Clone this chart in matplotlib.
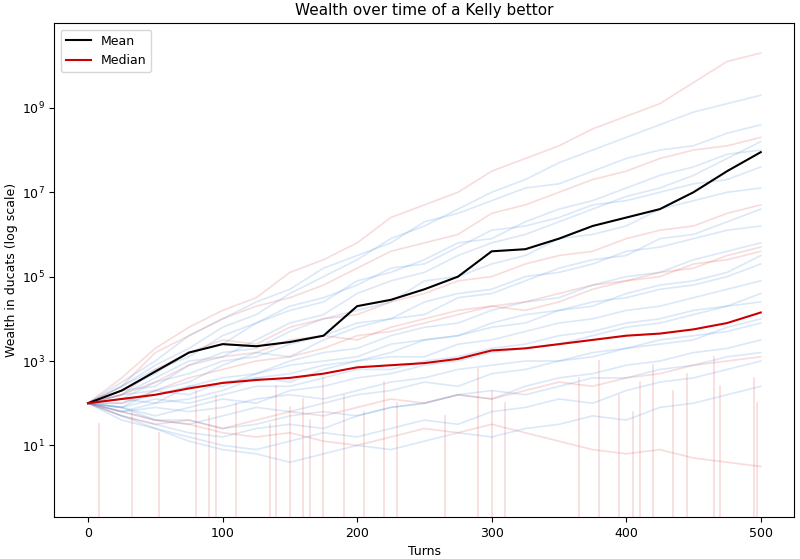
import numpy as np
import matplotlib.pyplot as plt

turns = list(range(0, 501, 25))

# log10 of wealth
mean_log = [2.0, 2.3, 2.75, 3.2, 3.4, 3.35, 3.45, 3.6, 4.3, 4.45, 4.7, 5.0,
            5.6, 5.65, 5.9, 6.2, 6.4, 6.6, 7.0, 7.5, 7.95]
median_log = [2.0, 2.1, 2.2, 2.35, 2.48, 2.55, 2.6, 2.7, 2.85, 2.9, 2.95, 3.05,
              3.25, 3.3, 3.4, 3.5, 3.6, 3.65, 3.75, 3.9, 4.15]

# a sample of individual bettors (log10 wealth), blue paths
blue_paths = [
    [2.0, 2.4, 2.9, 3.3, 3.8, 4.1, 4.6, 5.0, 5.4, 5.9, 6.2, 6.6, 7.0, 7.3, 7.7, 8.0, 8.3, 8.6, 8.9, 9.1, 9.3],
    [2.0, 2.2, 2.6, 3.0, 3.1, 3.5, 3.9, 4.1, 4.6, 4.9, 5.1, 5.5, 5.8, 6.0, 6.3, 6.6, 6.9, 7.1, 7.4, 7.8, 8.2],
    [2.0, 2.3, 2.4, 2.9, 3.2, 3.3, 3.7, 4.0, 4.2, 4.4, 4.9, 5.0, 5.3, 5.5, 5.9, 6.0, 6.2, 6.6, 6.8, 7.0, 7.1],
    [2.0, 1.9, 2.3, 2.5, 2.9, 3.2, 3.1, 3.5, 3.8, 4.0, 4.1, 4.5, 4.6, 4.9, 5.2, 5.4, 5.5, 5.9, 6.0, 6.3, 6.6],
    [2.0, 2.1, 2.0, 2.4, 2.6, 2.7, 3.0, 3.2, 3.3, 3.6, 3.8, 3.9, 4.2, 4.4, 4.5, 4.8, 5.0, 5.1, 5.4, 5.6, 5.8],
    [2.0, 1.8, 2.0, 2.1, 2.3, 2.6, 2.7, 2.9, 3.0, 3.2, 3.5, 3.6, 3.8, 3.9, 4.2, 4.4, 4.5, 4.7, 4.8, 5.0, 5.3],
    [2.0, 2.2, 2.3, 2.2, 2.5, 2.6, 2.5, 2.8, 3.0, 3.1, 3.1, 3.4, 3.5, 3.7, 3.9, 4.0, 4.2, 4.3, 4.5, 4.7, 4.9],
    [2.0, 1.9, 1.7, 1.9, 2.1, 2.0, 2.3, 2.4, 2.6, 2.7, 2.9, 3.0, 3.2, 3.3, 3.4, 3.6, 3.8, 3.9, 4.1, 4.3, 4.4],
    [2.0, 1.8, 1.6, 1.5, 1.7, 1.9, 1.8, 2.0, 2.2, 2.3, 2.5, 2.4, 2.7, 2.8, 3.0, 3.1, 3.3, 3.4, 3.5, 3.8, 4.0],
    [2.0, 1.7, 1.5, 1.3, 1.2, 1.4, 1.5, 1.4, 1.7, 1.9, 2.0, 2.2, 2.1, 2.4, 2.6, 2.7, 2.9, 3.0, 3.2, 3.3, 3.5],
    [2.0, 1.6, 1.4, 1.2, 1.0, 0.9, 1.1, 1.3, 1.2, 1.4, 1.6, 1.5, 1.8, 1.9, 2.1, 2.0, 2.3, 2.5, 2.6, 2.8, 3.0],
    [2.0, 2.5, 3.0, 3.6, 4.0, 4.4, 4.7, 5.2, 5.5, 5.8, 6.3, 6.5, 6.8, 7.1, 7.2, 7.5, 7.8, 8.0, 8.1, 8.4, 8.6],
    [2.0, 2.3, 2.7, 3.2, 3.4, 3.9, 4.3, 4.5, 4.8, 5.2, 5.3, 5.7, 6.1, 6.2, 6.4, 6.7, 6.8, 7.0, 7.2, 7.3, 7.6],
    [2.0, 2.1, 2.5, 2.7, 3.0, 3.1, 3.4, 3.6, 3.9, 4.0, 4.4, 4.6, 4.7, 5.0, 5.1, 5.3, 5.6, 5.7, 5.9, 6.1, 6.2],
    [2.0, 2.0, 2.2, 2.4, 2.4, 2.7, 2.9, 3.0, 3.1, 3.4, 3.5, 3.6, 3.9, 4.1, 4.2, 4.3, 4.6, 4.8, 4.9, 5.1, 5.5],
    [2.0, 1.9, 2.1, 2.0, 2.2, 2.4, 2.4, 2.6, 2.8, 2.8, 3.0, 3.1, 3.3, 3.4, 3.6, 3.7, 3.9, 4.0, 4.2, 4.3, 4.6],
    [2.0, 1.8, 1.9, 1.8, 1.9, 2.1, 2.2, 2.1, 2.3, 2.5, 2.6, 2.8, 2.9, 3.0, 3.0, 3.2, 3.3, 3.5, 3.6, 3.7, 3.9],
    [2.0, 1.9, 1.6, 1.6, 1.4, 1.5, 1.7, 1.8, 1.7, 1.9, 2.0, 2.2, 2.3, 2.2, 2.4, 2.6, 2.6, 2.8, 2.9, 3.1, 3.2],
    [2.0, 1.7, 1.4, 1.1, 0.9, 0.8, 0.6, 0.8, 1.0, 0.9, 1.1, 1.3, 1.2, 1.4, 1.5, 1.7, 1.6, 1.9, 2.0, 2.2, 2.4],
    [2.0, 2.4, 2.8, 3.1, 3.6, 3.9, 4.2, 4.4, 4.9, 5.1, 5.4, 5.8, 5.9, 6.3, 6.6, 6.8, 7.1, 7.4, 7.6, 7.9, 8.0],
]

# a sample of red paths
red_paths = [
    [2.0, 2.6, 3.3, 3.8, 4.2, 4.5, 5.1, 5.4, 5.8, 6.4, 6.7, 7.0, 7.5, 7.8, 8.1, 8.5, 8.8, 9.1, 9.6, 10.1, 10.3],
    [2.0, 2.4, 3.2, 3.6, 4.0, 4.3, 4.5, 4.8, 5.2, 5.6, 5.8, 6.0, 6.5, 6.7, 7.0, 7.3, 7.5, 7.8, 8.0, 8.1, 8.3],
    [2.0, 2.2, 2.8, 3.2, 3.5, 3.4, 3.8, 4.0, 4.1, 4.4, 4.6, 4.9, 5.0, 5.3, 5.5, 5.6, 5.9, 6.1, 6.2, 6.5, 6.7],
    [2.0, 2.0, 2.3, 2.6, 2.8, 3.0, 3.1, 3.3, 3.6, 3.7, 3.9, 4.1, 4.3, 4.4, 4.6, 4.8, 4.9, 5.1, 5.2, 5.5, 5.7],
    [2.0, 1.8, 1.6, 1.5, 1.3, 1.2, 1.3, 1.1, 1.0, 1.2, 1.4, 1.3, 1.5, 1.3, 1.1, 0.9, 0.8, 0.9, 0.7, 0.6, 0.5],
    [2.0, 1.7, 1.5, 1.6, 1.4, 1.6, 1.8, 1.7, 1.9, 2.1, 2.0, 2.2, 2.1, 2.3, 2.5, 2.4, 2.6, 2.7, 2.9, 3.0, 3.1],
    [2.0, 2.2, 2.5, 2.9, 3.1, 3.2, 3.5, 3.6, 3.5, 3.8, 4.0, 4.2, 4.3, 4.2, 4.4, 4.7, 4.9, 5.0, 5.3, 5.4, 5.6],
]
# bettors that went broke: turn of ruin and log10 wealth just before it
ruin_turns = [8, 33, 53, 80, 90, 95, 110, 135, 140, 150, 160, 165, 175, 190,
              205, 220, 230, 265, 290, 300, 310, 365, 380, 395, 405, 410,
              420, 435, 445, 465, 470, 495, 497]
ruin_levels = [1.5, 1.8, 1.3, 2.3, 1.7, 2.2, 2.0, 1.5, 2.4, 1.9, 2.1, 1.6, 2.6,
               2.2, 1.8, 2.5, 2.0, 1.7, 2.8, 2.3, 2.0, 2.6, 3.0, 2.2, 1.8,
               2.5, 2.9, 2.3, 2.7, 3.1, 2.4, 2.6, 2.0]

fig, ax = plt.subplots(figsize=(8, 5.59), dpi=100)

for p in blue_paths:
    ax.plot(turns, 10 ** np.array(p), color="#4a8fdc", alpha=0.2, lw=1.2)
for p in red_paths:
    ax.plot(turns, 10 ** np.array(p), color="#d9534f", alpha=0.2, lw=1.2)
for t, lvl in zip(ruin_turns, ruin_levels):
    ax.plot([t, t], [10 ** lvl, 1e-3], color="#d9534f", alpha=0.2, lw=1.2)

ax.plot(turns, 10 ** np.array(mean_log), color="black", lw=1.5, label="Mean")
ax.plot(turns, 10 ** np.array(median_log), color="#cc0000", lw=1.5, label="Median")

ax.set_yscale("log")
ax.set_ylim(0.2, 1e11)
ax.set_xlim(-25, 525)
ax.set_yticks([1e1, 1e3, 1e5, 1e7, 1e9])
ax.minorticks_off()
ax.tick_params(labelsize=9)
ax.set_xlabel("Turns", fontsize=9)
ax.set_ylabel("Wealth in ducats (log scale)", fontsize=9, labelpad=3)
ax.set_title("Wealth over time of a Kelly bettor", fontsize=11)
ax.legend(loc="upper left", fontsize=9)

fig.subplots_adjust(left=0.068, right=0.993, top=0.958, bottom=0.075)
fig.savefig("out.png")
